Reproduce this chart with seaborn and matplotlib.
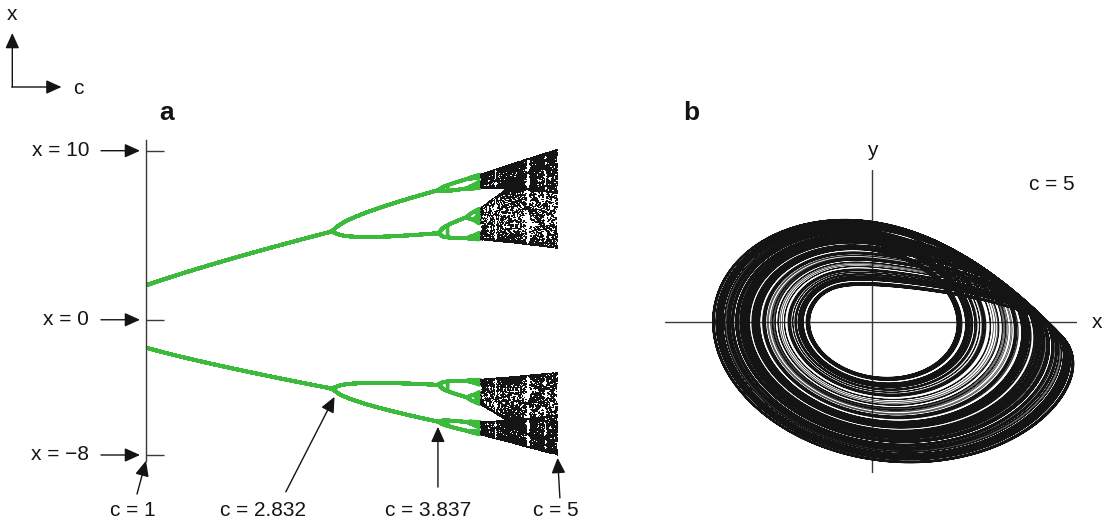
import numpy as np
import pandas as pd
import matplotlib
matplotlib.use("Agg")
import matplotlib.pyplot as plt
from matplotlib.patches import ArrowStyle
import seaborn as sns

# Rössler system  x' = -y - z,  y' = x + a*y,  z' = b + z*(x - c)
A = 0.2
B = 0.2
C_MIN, C_MAX = 1.0, 5.0
N_C = 820               # number of c values in the bifurcation sweep
C_CHAOS = 4.25          # periodic windows drawn green below this, chaos black above
C_ATTRACTOR = 5.0       # parameter of the phase portrait in panel b

# Annotated values
X_TICKS = [10, 0, -8]
X_TICK_LABELS = ["x = 10", "x = 0", "x = \u22128"]
C_MARKS = [1, 2.832, 3.837, 5]
C_MARK_LABELS = ["c = 1", "c = 2.832", "c = 3.837", "c = 5"]
C_MARK_TIP_X = [-8.34, -4.56, -6.33, -8.17]   # x-level where each c-arrow ends

GREEN = "#3cba3c"
INK = "#141414"
AXIS = "#3a3a3a"

W, H = 1112, 525


def rhs(x, y, z, c):
    return -y - z, x + A * y, B + z * (x - c)


def rk4(x, y, z, c, dt):
    k1 = rhs(x, y, z, c)
    k2 = rhs(x + 0.5 * dt * k1[0], y + 0.5 * dt * k1[1], z + 0.5 * dt * k1[2], c)
    k3 = rhs(x + 0.5 * dt * k2[0], y + 0.5 * dt * k2[1], z + 0.5 * dt * k2[2], c)
    k4 = rhs(x + dt * k3[0], y + dt * k3[1], z + dt * k3[2], c)
    return (x + dt / 6 * (k1[0] + 2 * k2[0] + 2 * k3[0] + k4[0]),
            y + dt / 6 * (k1[1] + 2 * k2[1] + 2 * k3[1] + k4[1]),
            z + dt / 6 * (k1[2] + 2 * k2[2] + 2 * k3[2] + k4[2]))


def bifurcation(c_values, dt=0.02, t_transient=500.0, t_record=260.0):
    """Local maxima and minima of x(t) after the transient, for each c."""
    x = np.ones_like(c_values)
    y = np.ones_like(c_values)
    z = np.zeros_like(c_values)
    for _ in range(int(t_transient / dt)):
        x, y, z = rk4(x, y, z, c_values, dt)
    cs, xs = [], []
    x0 = x.copy()
    x, y, z = rk4(x, y, z, c_values, dt)
    x1 = x.copy()
    for _ in range(int(t_record / dt)):
        x, y, z = rk4(x, y, z, c_values, dt)
        x2 = x
        ext = ((x1 > x0) & (x1 >= x2)) | ((x1 < x0) & (x1 <= x2))
        idx = np.nonzero(ext)[0]
        if idx.size:
            a0, a1, a2 = x0[idx], x1[idx], x2[idx]
            den = a0 - 2 * a1 + a2
            den = np.where(np.abs(den) < 1e-14, 1e-14, den)
            p = 0.5 * (a0 - a2) / den
            cs.append(c_values[idx])
            xs.append(a1 - 0.25 * (a0 - a2) * p)
        x0, x1 = x1, x2.copy()
    return np.concatenate(cs), np.concatenate(xs)


def trajectory(c, dt=0.01, t_transient=200.0, t_record=1500.0):
    x, y, z = 1.0, 1.0, 0.0
    for _ in range(int(t_transient / dt)):
        x, y, z = rk4(x, y, z, c, dt)
    n = int(t_record / dt)
    xs = np.empty(n)
    ys = np.empty(n)
    for i in range(n):
        x, y, z = rk4(x, y, z, c, dt)
        xs[i] = x
        ys[i] = y
    return xs, ys


c_grid = np.linspace(C_MIN, C_MAX, N_C)
bc, bx = bifurcation(c_grid)
bif = pd.DataFrame({"c": bc, "x": bx})
periodic = bif[bif["c"] < C_CHAOS]
chaotic = bif[bif["c"] >= C_CHAOS]

tx, ty = trajectory(C_ATTRACTOR)
orbit = pd.DataFrame({"x": tx, "y": ty, "t": np.arange(tx.size)})

sns.set_theme(style="white")
plt.rcParams["font.family"] = ["Liberation Sans", "DejaVu Sans"]
plt.rcParams["text.color"] = INK

fig = plt.figure(figsize=(W / 100, H / 100), dpi=100)


def rect(left, top, right, bottom):
    return [left / W, 1 - bottom / H, (right - left) / W, (bottom - top) / H]


arrow_style = ArrowStyle("-|>", head_length=0.62, head_width=0.28)
arrow_kw = dict(arrowstyle=arrow_style, mutation_scale=15, color=INK, lw=1.0,
                shrinkA=0, shrinkB=0)

# ---------------- panel a: bifurcation diagram ----------------
ax = fig.add_axes(rect(146, 140, 575, 461))
px_c = 102.9            # pixels per unit of c
px_x = 16.9             # pixels per unit of x
ax.set_xlim(C_MIN, C_MIN + (575 - 146) / px_c)
ax.set_ylim(-8 - (461 - 455) / px_x, 10 + (150.7 - 140) / px_x)

sns.scatterplot(data=periodic, x="c", y="x", ax=ax, s=6, marker="o",
                color=GREEN, linewidth=0, edgecolor="none", rasterized=True)
sns.scatterplot(data=chaotic, x="c", y="x", ax=ax, s=1.0, marker="s",
                color=INK, linewidth=0, edgecolor="none", rasterized=True)

for side in ["top", "right", "bottom"]:
    ax.spines[side].set_visible(False)
ax.spines["left"].set_color(AXIS)
ax.spines["left"].set_linewidth(1.0)
ax.set_xticks([])
ax.set_yticks(X_TICKS)
ax.tick_params(axis="y", direction="in", length=12.7, width=1.0, color=AXIS,
               labelleft=False, left=True)
ax.set_xlabel("")
ax.set_ylabel("")
ax.set_facecolor("none")

for val, lab in zip(X_TICKS, X_TICK_LABELS):
    ax.annotate("", xy=(C_MIN, val), xytext=(-45, 0), textcoords="offset pixels",
                arrowprops=dict(arrow_kw, shrinkB=4.3))
    ax.annotate(lab, xy=(C_MIN, val), xytext=(-57, 0), textcoords="offset pixels",
                ha="right", va="center", fontsize=15, annotation_clip=False)

tail_offsets = [(-9, -33.3), (-48.7, -95), (0, -60.3), (2.3, -40)]
label_pos = [(132.7, 510), (263, 510), (428, 510), (556, 510)]
for c, tip, off, lab, (lx, ly) in zip(C_MARKS, C_MARK_TIP_X, tail_offsets,
                                        C_MARK_LABELS, label_pos):
    ax.annotate("", xy=(c, tip), xytext=off, textcoords="offset pixels",
                arrowprops=arrow_kw, annotation_clip=False)
    fig.text(lx / W, 1 - ly / H, lab, ha="center", va="center", fontsize=15)

# figure-level overlay in pixel coordinates for the key and panel letters
ov = fig.add_axes([0, 0, 1, 1])
ov.set_xlim(0, W)
ov.set_ylim(H, 0)
ov.axis("off")
ov.annotate("", xy=(12.3, 33), xytext=(12.3, 87), arrowprops=arrow_kw)
ov.annotate("", xy=(61.5, 87), xytext=(11.8, 87), arrowprops=arrow_kw)
ov.text(12.3, 14, "x", ha="center", va="center", fontsize=15)
ov.text(78, 88, "c", ha="center", va="center", fontsize=15)
ov.text(167, 113, "a", ha="center", va="center", fontsize=19, fontweight="bold")
ov.text(691.5, 113, "b", ha="center", va="center", fontsize=19, fontweight="bold")

# ---------------- panel b: phase portrait at c = 5 ----------------
ax2 = fig.add_axes(rect(665, 170, 1077, 473))
ox, oy = 872.3, 321.7
sx, sy = 20.0, 14.9
ax2.set_xlim((665 - ox) / sx, (1077 - ox) / sx)
ax2.set_ylim((oy - 473) / sy, (oy - 170) / sy)
ax2.axhline(0, color=AXIS, lw=1.0, zorder=0)
ax2.axvline(0, color=AXIS, lw=1.0, zorder=0)
sns.lineplot(data=orbit, x="x", y="y", sort=False, estimator=None, ax=ax2,
             color=INK, lw=0.45, rasterized=True)
for s in ax2.spines.values():
    s.set_visible(False)
ax2.set_xticks([])
ax2.set_yticks([])
ax2.set_xlabel("")
ax2.set_ylabel("")
ax2.set_facecolor("none")

ov.text(1097, 323, "x", ha="center", va="center", fontsize=15)
ov.text(872, 150, "y", ha="center", va="center", fontsize=15)
ov.text(1052, 185, "c = 5", ha="center", va="center", fontsize=15)

fig.savefig("out.png", dpi=100)
